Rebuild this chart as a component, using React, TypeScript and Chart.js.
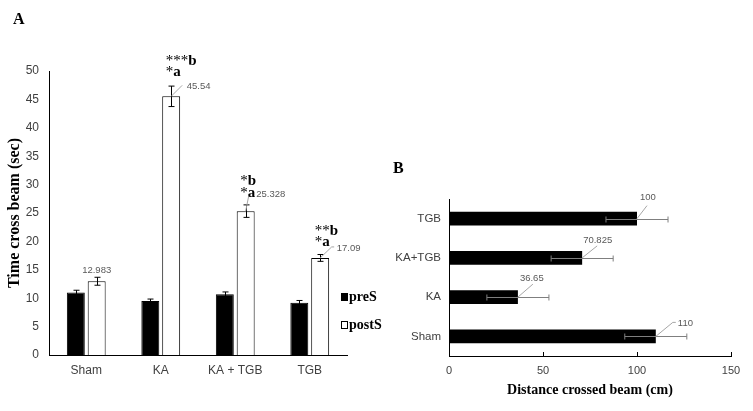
import React, { useEffect, useRef } from 'react';
import { Chart, registerables } from 'chart.js';

Chart.register(...registerables);

// ---------- Panel A data ----------
const groupsA = ['Sham', 'KA', 'KA + TGB', 'TGB'];
const preS = [11.0, 9.5, 10.7, 9.2];
const preSErr = [0.4, 0.35, 0.4, 0.4];
const postS = [12.983, 45.54, 25.328, 17.09];
const postSErr = [0.7, 1.8, 1.1, 0.6];
const sigTop = ['', '***b', '*b', '**b'];
const sigBottom = ['', '*a', '*a', '*a'];
const yMinA = 0;
const yMaxA = 50;
const yStepA = 5;

// ---------- Panel B data ----------
const groupsB = ['Sham', 'KA', 'KA+TGB', 'TGB'];
const distance = [110, 36.65, 70.825, 100];
const distanceErr = [16.5, 16.5, 16.5, 16.5];
const xMinB = 0;
const xMaxB = 150;
const xStepB = 50;

// ---------- Styles (positions relative to the bar ends) ----------
const SANS = '"Liberation Sans", Arial, sans-serif';
const SERIF = '"Liberation Serif", "Times New Roman", serif';
const LABEL_COLOR = '#595959';
const LEADER_COLOR = '#a6a6a6';
const TICK_COLOR = '#404040';

const A_VALUE_STYLE = [
  { lx: 0, ly: -11, align: 'center', leader: null as null | number[] },
  { lx: 15.5, ly: -10, align: 'left', leader: [11, -11] },
  { lx: 10.5, ly: -17, align: 'left', leader: [3, -15] },
  { lx: 16.5, ly: -10, align: 'left', leader: [11.5, -11, 14, -11] },
];
const A_SIG_STYLE = [
  { dx: 0, dyTop: 0, dyBottom: 0 },
  { dx: -5.5, dyTop: -26, dyBottom: -15 },
  { dx: -5.5, dyTop: -25, dyBottom: -13 },
  { dx: -5.5, dyTop: -25, dyBottom: -14 },
];
const B_VALUE_STYLE = [
  { lx: 22, ly: -13, leader: [17, -14, 20, -14] },
  { lx: 2, ly: -19, leader: [15, -13] },
  { lx: 1, ly: -18, leader: [15, -12] },
  { lx: 3, ly: -21, leader: [10, -13] },
];

const errorBarsPlugin = {
  id: 'errorBars',
  afterDatasetsDraw(chart: any) {
    const ctx = chart.ctx;
    const horizontal = chart.options.indexAxis === 'y';
    const valueScale = horizontal ? chart.scales.x : chart.scales.y;
    chart.data.datasets.forEach((ds: any, di: number) => {
      if (!ds.errors) return;
      const meta = chart.getDatasetMeta(di);
      meta.data.forEach((el: any, i: number) => {
        const v = ds.data[i];
        const e = ds.errors[i];
        const p1 = valueScale.getPixelForValue(v - e);
        const p2 = valueScale.getPixelForValue(v + e);
        const cap = ds.errorCap || 3;
        ctx.save();
        ctx.strokeStyle = ds.errorColor || '#000';
        ctx.lineWidth = 1;
        ctx.beginPath();
        if (horizontal) {
          const y = Math.round(el.y) + 0.5;
          ctx.moveTo(p1, y);
          ctx.lineTo(p2, y);
          ctx.moveTo(p1, y - cap);
          ctx.lineTo(p1, y + cap);
          ctx.moveTo(p2, y - cap);
          ctx.lineTo(p2, y + cap);
        } else {
          const x = Math.round(el.x) + 0.5;
          ctx.moveTo(x, p1);
          ctx.lineTo(x, p2);
          ctx.moveTo(x - cap, p1);
          ctx.lineTo(x + cap, p1);
          ctx.moveTo(x - cap, p2);
          ctx.lineTo(x + cap, p2);
        }
        ctx.stroke();
        ctx.restore();
      });
    });
  },
};

function drawLeader(ctx: any, x: number, y: number, pts: number[]) {
  ctx.save();
  ctx.strokeStyle = LEADER_COLOR;
  ctx.lineWidth = 1;
  ctx.beginPath();
  ctx.moveTo(x, y);
  for (let k = 0; k < pts.length; k += 2) ctx.lineTo(x + pts[k], y + pts[k + 1]);
  ctx.stroke();
  ctx.restore();
}

// asterisks in regular weight, letters in bold, on one baseline
function drawSig(ctx: any, text: string, x: number, y: number) {
  const stars = text.replace(/[^*]/g, '');
  const rest = text.replace(/\*/g, '');
  ctx.save();
  ctx.fillStyle = '#000';
  ctx.textAlign = 'left';
  ctx.textBaseline = 'alphabetic';
  ctx.font = `15px ${SERIF}`;
  ctx.fillText(stars, x, y + 5);
  const w = ctx.measureText(stars).width;
  ctx.font = `bold 15px ${SERIF}`;
  ctx.fillText(rest, x + w, y + 5);
  ctx.restore();
}

const annotationsAPlugin = {
  id: 'annotationsA',
  afterDraw(chart: any) {
    const ctx = chart.ctx;
    const meta = chart.getDatasetMeta(1);
    meta.data.forEach((el: any, i: number) => {
      const x = el.x;
      const y = el.y;
      const st = A_VALUE_STYLE[i];
      if (st.leader) drawLeader(ctx, x, y, st.leader);
      ctx.save();
      ctx.fillStyle = LABEL_COLOR;
      ctx.font = `9.5px ${SANS}`;
      ctx.textAlign = st.align;
      ctx.textBaseline = 'middle';
      ctx.fillText(String(postS[i]), x + st.lx, y + st.ly);
      ctx.restore();
      const errTop = chart.scales.y.getPixelForValue(postS[i] + postSErr[i]);
      const sg = A_SIG_STYLE[i];
      if (sigTop[i]) drawSig(ctx, sigTop[i], x + sg.dx, errTop + sg.dyTop);
      if (sigBottom[i]) drawSig(ctx, sigBottom[i], x + sg.dx, errTop + sg.dyBottom);
    });
    // legend
    const ca = chart.chartArea;
    const rows = [ca.bottom - 58, ca.bottom - 30];
    chart.data.datasets.forEach((ds: any, di: number) => {
      const cy = rows[di];
      ctx.save();
      ctx.fillStyle = ds.backgroundColor;
      ctx.strokeStyle = '#000';
      ctx.lineWidth = 1;
      ctx.fillRect(ca.right - 6, cy - 4, 7, 8);
      ctx.strokeRect(ca.right - 5.5, cy - 3.5, 6, 7);
      ctx.fillStyle = '#000';
      ctx.font = `bold 14px ${SERIF}`;
      ctx.textAlign = 'left';
      ctx.textBaseline = 'middle';
      ctx.fillText(ds.label, ca.right + 2, cy);
      ctx.restore();
    });
  },
};

const annotationsBPlugin = {
  id: 'annotationsB',
  afterDraw(chart: any) {
    const ctx = chart.ctx;
    const meta = chart.getDatasetMeta(0);
    meta.data.forEach((el: any, i: number) => {
      const x = el.x;
      const y = el.y;
      const st = B_VALUE_STYLE[i];
      drawLeader(ctx, x, y, st.leader);
      ctx.save();
      ctx.fillStyle = LABEL_COLOR;
      ctx.font = `9.5px ${SANS}`;
      ctx.textAlign = 'left';
      ctx.textBaseline = 'middle';
      ctx.fillText(String(distance[i]), x + st.lx, y + st.ly);
      ctx.restore();
    });
    // inside tick marks on x axis
    const xs = chart.scales.x;
    const bottom = chart.chartArea.bottom;
    ctx.save();
    ctx.strokeStyle = '#000';
    ctx.lineWidth = 1;
    ctx.beginPath();
    xs.ticks.forEach((t: any) => {
      const px = Math.round(xs.getPixelForValue(t.value)) + 0.5;
      ctx.moveTo(px, bottom);
      ctx.lineTo(px, bottom - 4);
    });
    ctx.stroke();
    ctx.restore();
  },
};

function PanelA() {
  const ref = useRef<HTMLCanvasElement>(null);
  useEffect(() => {
    const chart = new Chart(ref.current as HTMLCanvasElement, {
      type: 'bar',
      data: {
        labels: groupsA,
        datasets: [
          {
            label: 'preS',
            data: preS,
            backgroundColor: '#000000',
            borderColor: '#000000',
            borderWidth: 1,
            errors: preSErr,
            errorColor: '#000',
            errorCap: 3,
          } as any,
          {
            label: 'postS',
            data: postS,
            backgroundColor: '#ffffff',
            borderColor: '#000000',
            borderWidth: 1,
            errors: postSErr,
            errorColor: '#000',
            errorCap: 3,
          } as any,
        ],
      },
      options: {
        responsive: false,
        animation: false,
        events: [],
        categoryPercentage: 0.56,
        barPercentage: 0.86,
        layout: { padding: { top: 71, right: 53, left: 0, bottom: 0 } },
        plugins: { legend: { display: false }, tooltip: { enabled: false } },
        scales: {
          x: {
            grid: { display: false, drawTicks: false },
            border: { display: true, color: '#000', width: 1 },
            ticks: { color: TICK_COLOR, font: { family: SANS, size: 12 }, padding: 8 },
            afterFit(s: any) { s.height = 56; },
          },
          y: {
            min: yMinA,
            max: yMaxA,
            grid: { display: false, drawTicks: false },
            border: { display: true, color: '#000', width: 1 },
            ticks: { stepSize: yStepA, color: TICK_COLOR, font: { family: SANS, size: 12 }, padding: 10 },
            title: {
              display: true,
              text: 'Time cross beam (sec)',
              color: '#000',
              font: { family: SERIF, size: 16, weight: 'bold' },
              padding: { top: 5, bottom: 0 },
            },
            afterFit(s: any) { s.width = 49; },
          },
        },
      } as any,
      plugins: [errorBarsPlugin, annotationsAPlugin],
    });
    return () => chart.destroy();
  }, []);
  return (
    <canvas
      ref={ref}
      width={400}
      height={411}
      style={{ position: 'absolute', left: 0, top: 0, width: 400, height: 411 }}
    />
  );
}

function PanelB() {
  const ref = useRef<HTMLCanvasElement>(null);
  useEffect(() => {
    const chart = new Chart(ref.current as HTMLCanvasElement, {
      type: 'bar',
      data: {
        labels: groupsB,
        datasets: [
          {
            label: 'Distance',
            data: distance,
            backgroundColor: '#000000',
            borderColor: '#000000',
            borderWidth: 0,
            errors: distanceErr,
            errorColor: '#7f7f7f',
            errorCap: 3,
          } as any,
        ],
      },
      options: {
        indexAxis: 'y',
        responsive: false,
        animation: false,
        events: [],
        categoryPercentage: 0.5,
        barPercentage: 0.7,
        layout: { padding: { top: 49, right: 22, left: 0, bottom: 0 } },
        plugins: { legend: { display: false }, tooltip: { enabled: false } },
        scales: {
          x: {
            min: xMinB,
            max: xMaxB,
            grid: { display: false, drawTicks: false },
            border: { display: true, color: '#000', width: 1 },
            ticks: { stepSize: xStepB, color: TICK_COLOR, font: { family: SANS, size: 11 }, padding: 8 },
            title: {
              display: true,
              text: 'Distance crossed beam (cm)',
              color: '#000',
              font: { family: SERIF, size: 14, weight: 'bold' },
              padding: { top: 0, bottom: 12 },
            },
            afterFit(s: any) { s.height = 55; },
          },
          y: {
            reverse: true,
            grid: { display: false, drawTicks: false },
            border: { display: true, color: '#000', width: 1 },
            ticks: { color: TICK_COLOR, font: { family: SANS, size: 11.5 }, padding: 8 },
            afterFit(s: any) { s.width = 69; },
          },
        },
      } as any,
      plugins: [errorBarsPlugin, annotationsBPlugin],
    });
    return () => chart.destroy();
  }, []);
  return (
    <canvas
      ref={ref}
      width={373}
      height={261}
      style={{ position: 'absolute', left: 380, top: 150, width: 373, height: 261 }}
    />
  );
}

export default function App() {
  const letter: React.CSSProperties = {
    position: 'absolute',
    font: `bold 16px ${SERIF}`,
    lineHeight: '16px',
    color: '#000',
  };
  return (
    <div
      style={{
        position: 'absolute',
        left: 0,
        top: 0,
        width: 753,
        height: 411,
        background: '#ffffff',
        overflow: 'hidden',
      }}
    >
      <PanelA />
      <PanelB />
      <div style={{ ...letter, left: 13, top: 11 }}>A</div>
      <div style={{ ...letter, left: 393, top: 160 }}>B</div>
    </div>
  );
}
